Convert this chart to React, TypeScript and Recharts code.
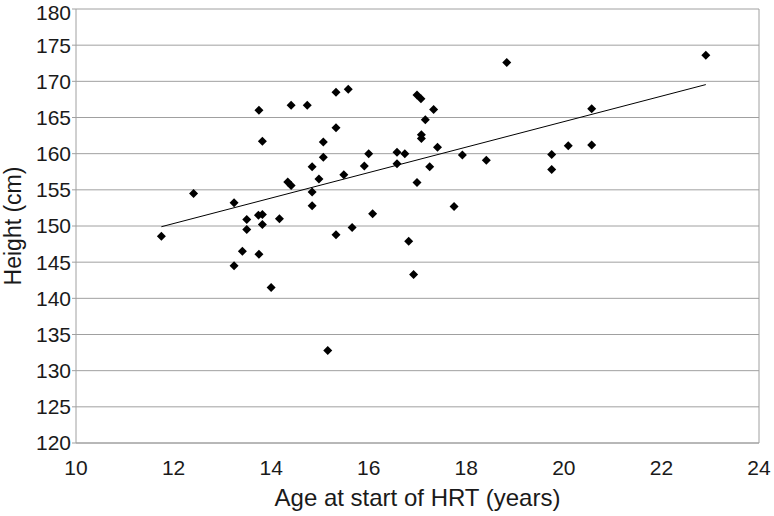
import React from "react";
import { CartesianGrid, ReferenceLine, Scatter, ScatterChart, XAxis, YAxis } from "recharts";

// age at start of HRT (years) and adult height (cm)
const ages = [
  11.75, 12.41, 13.24, 13.24, 13.41, 13.5, 13.5, 13.74, 13.75, 13.75,
  13.82, 13.82, 13.82, 14.0, 14.17, 14.34, 14.41, 14.41, 14.74, 14.84,
  14.84, 14.84, 14.98, 15.07, 15.07, 15.16, 15.33, 15.33, 15.33, 15.49,
  15.58, 15.66, 15.91, 16.0, 16.08, 16.58, 16.58, 16.74, 16.82, 16.92,
  16.99, 17.07, 16.99, 17.08, 17.08, 17.16, 17.33, 17.25, 17.41, 17.75,
  17.92, 18.41, 18.83, 19.75, 19.75, 20.09, 20.57, 20.57, 22.91,
];
const heights = [
  148.6, 154.5, 153.2, 144.5, 146.5, 150.9, 149.5, 151.5, 166.0, 146.1,
  161.7, 151.6, 150.2, 141.5, 151.0, 156.1, 155.6, 166.7, 166.7, 158.2,
  154.7, 152.8, 156.5, 161.6, 159.5, 132.8, 168.5, 163.6, 148.8, 157.1,
  168.9, 149.8, 158.3, 160.0, 151.7, 160.2, 158.6, 160.0, 147.9, 143.3,
  168.1, 167.6, 156.0, 162.6, 162.1, 164.7, 166.1, 158.2, 160.9, 152.7,
  159.8, 159.1, 172.6, 159.9, 157.8, 161.1, 166.2, 161.2, 173.6,
];

// linear fit endpoints
const trendAges = [11.75, 22.91];
const trendHeights = [149.9, 169.55];

const xTicks = [10, 12, 14, 16, 18, 20, 22, 24];
const yTicks = [120, 125, 130, 135, 140, 145, 150, 155, 160, 165, 170, 175, 180];

const points = ages.map((age, i) => ({ age, height: heights[i] }));
const trend = trendAges.map((age, i) => ({ age, height: trendHeights[i] }));

const font = "'Liberation Sans', Arial, sans-serif";
const grey = "#a0a0a0";

function Diamond({ cx, cy }: { cx?: number; cy?: number }) {
  if (cx == null || cy == null) return <g />;
  const r = 4.5;
  return (
    <polygon
      points={`${cx},${cy - r} ${cx + r},${cy} ${cx},${cy + r} ${cx - r},${cy}`}
      fill="#000"
    />
  );
}

export default function App() {
  return (
    <div style={{ position: "absolute", left: 0, top: 0, background: "#fff", fontFamily: font }}>
      <ScatterChart width={774} height={516} margin={{ top: 9, right: 15, bottom: 0, left: 0 }}>
        <CartesianGrid vertical={false} stroke={grey} strokeWidth={1} />
        <XAxis
          type="number"
          dataKey="age"
          domain={[10, 24]}
          ticks={xTicks}
          height={73}
          tickLine={false}
          tickMargin={11}
          axisLine={{ stroke: grey }}
          tick={{ fill: "#1a1a1a", fontSize: 21, fontFamily: font }}
          label={{
            value: "Age at start of HRT (years)",
            position: "insideBottom",
            offset: 10,
            fill: "#1a1a1a",
            fontSize: 24,
            fontFamily: font,
          }}
        />
        <YAxis
          type="number"
          dataKey="height"
          domain={[120, 180]}
          ticks={yTicks}
          width={76}
          tickSize={4}
          tickMargin={1}
          tickLine={{ stroke: grey }}
          axisLine={{ stroke: grey }}
          tick={{ fill: "#1a1a1a", fontSize: 21, fontFamily: font }}
          label={{
            value: "Height (cm)",
            angle: -90,
            position: "insideLeft",
            offset: 13,
            fill: "#1a1a1a",
            fontSize: 23,
            fontFamily: font,
            style: { textAnchor: "middle" },
          }}
        />
        <ReferenceLine x={24} stroke={grey} />
        <Scatter
          data={trend}
          line={{ stroke: "#000", strokeWidth: 1 }}
          shape={() => <g />}
          isAnimationActive={false}
        />
        <Scatter data={points} shape={<Diamond />} isAnimationActive={false} />
      </ScatterChart>
    </div>
  );
}
